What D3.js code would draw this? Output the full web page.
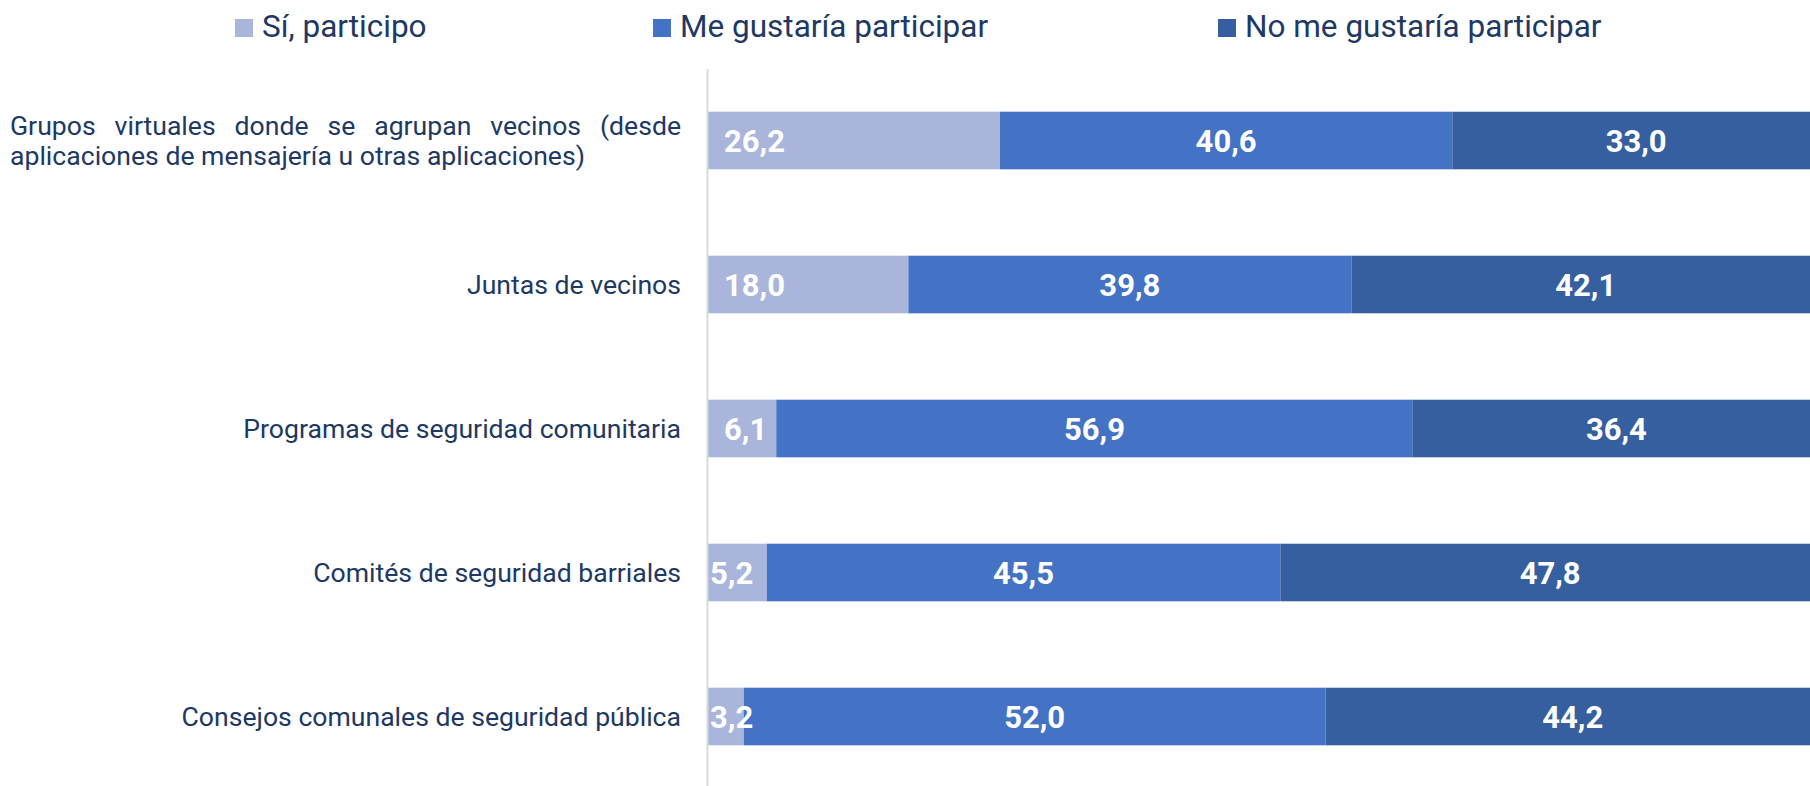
<!DOCTYPE html>
<html>
<head>
<meta charset="utf-8">
<script src="https://cdn.jsdelivr.net/npm/d3@7"></script>
<style>
  html, body { margin: 0; padding: 0; background: #fff; overflow: hidden; }
  svg { display: block; font-family: Roboto, "Noto Sans", sans-serif; }
</style>
</head>
<body>
<div class="chart"></div>
<script>
// categories, top to bottom
const categories = [
  "Grupos virtuales donde se agrupan vecinos (desde aplicaciones de mensajería u otras aplicaciones)",
  "Juntas de vecinos",
  "Programas de seguridad comunitaria",
  "Comités de seguridad barriales",
  "Consejos comunales de seguridad pública"
];
const seriesNames = ["Sí, participo", "Me gustaría participar", "No me gustaría participar"];
const siParticipo = [26.2, 18.0, 6.1, 5.2, 3.2];
const meGustaria = [40.6, 39.8, 56.9, 45.5, 52.0];
const noMeGustaria = [33.0, 42.1, 36.4, 47.8, 44.2];
const colors = ["#a9b5da", "#4472c4", "#365fa0"];

const width = 1810, height = 786;
const textColor = "#203864";

const svg = d3.select(".chart").append("svg")
  .attr("width", width)
  .attr("height", height);

// rows for the stack (100% stacked, each row normalised)
const rows = categories.map((c, i) => ({
  cat: c, s0: siParticipo[i], s1: meGustaria[i], s2: noMeGustaria[i]
}));
const values = [siParticipo, meGustaria, noMeGustaria];
const stack = d3.stack().keys(["s0", "s1", "s2"]).offset(d3.stackOffsetExpand);
const layers = stack(rows);

const x = d3.scaleLinear().domain([0, 1]).range([708, 1820]);
const y = d3.scaleBand().domain(categories).range([68.5, 788.5])
  .paddingInner(0.6).paddingOuter(0.3);

// bars
const layerG = svg.selectAll("g.layer")
  .data(layers)
  .enter().append("g")
  .attr("class", "layer")
  .attr("fill", (d, i) => colors[i]);

layerG.selectAll("rect")
  .data(d => d)
  .enter().append("rect")
  .attr("x", d => x(d[0]))
  .attr("y", d => y(d.data.cat))
  .attr("width", d => x(d[1]) - x(d[0]))
  .attr("height", y.bandwidth());

// value labels, drawn above all bars: first series at the inside base, others centred
const fmt = v => d3.format(".1f")(v).replace(".", ",");
const labelG = svg.append("g").attr("class", "labels");
layers.forEach((layer, li) => {
  labelG.selectAll("text.s" + li)
    .data(layer.map((p, i) => ({ p: p, v: values[li][i] })))
    .enter().append("text")
    .attr("class", "s" + li)
    .attr("y", d => y(d.p.data.cat) + y.bandwidth() / 2)
    .attr("dy", "0.36em")
    .attr("fill", "#fff")
    .attr("font-weight", "bold")
    .attr("font-size", 31)
    .text(d => fmt(d.v))
    .attr("text-anchor", li === 0 ? "start" : "middle")
    .attr("x", function (d) {
      const w = this.getComputedTextLength();
      const x0 = x(d.p[0]), x1 = x(d.p[1]);
      if (li === 0) return (x0 + 16 + w <= x1) ? x0 + 16 : x0 + 2;
      return (x0 + x1) / 2;
    });
});

// vertical axis line
const yAxis = d3.axisLeft(y).tickSize(0).tickFormat("");
svg.append("g")
  .attr("transform", "translate(707,0)")
  .call(yAxis)
  .call(g => g.select(".domain").attr("stroke", "#d9d9d9").attr("stroke-width", 2));

// category labels
const labelRight = 681, labelLeft = 10, labelSize = 26.6;
categories.forEach((c, i) => {
  const cy = y(c) + y.bandwidth() / 2;
  if (i === 0) {
    // justified two-line label
    const line1 = "Grupos virtuales donde se agrupan vecinos (desde".split(" ");
    const line2 = "aplicaciones de mensajería u otras aplicaciones)";
    const t1 = svg.append("text")
      .attr("font-size", labelSize).attr("fill", textColor)
      .attr("y", cy - 15).attr("dy", "0.36em");
    const widths = line1.map(w => {
      const tmp = svg.append("text").attr("font-size", labelSize).text(w);
      const len = tmp.node().getComputedTextLength();
      tmp.remove();
      return len;
    });
    const total = d3.sum(widths);
    const gap = (labelRight - labelLeft - total) / (line1.length - 1);
    let cx = labelLeft;
    line1.forEach((w, k) => {
      t1.append("tspan").attr("x", cx).text(w);
      cx += widths[k] + gap;
    });
    svg.append("text")
      .attr("font-size", labelSize).attr("fill", textColor)
      .attr("x", labelLeft).attr("y", cy + 15).attr("dy", "0.36em")
      .text(line2);
  } else {
    svg.append("text")
      .attr("font-size", labelSize).attr("fill", textColor)
      .attr("x", labelRight).attr("y", cy).attr("dy", "0.36em")
      .attr("text-anchor", "end")
      .text(c);
  }
});

// legend
const legendX = [235, 653, 1218];
const legend = svg.selectAll("g.legend")
  .data(seriesNames)
  .enter().append("g")
  .attr("class", "legend")
  .attr("transform", (d, i) => "translate(" + legendX[i] + ",0)");
legend.append("rect")
  .attr("x", 0).attr("y", 19)
  .attr("width", 18).attr("height", 18)
  .attr("fill", (d, i) => colors[i]);
legend.append("text")
  .attr("x", 27).attr("y", 37)
  .attr("font-size", 31.5)
  .attr("fill", textColor)
  .text(d => d);
</script>
</body>
</html>
